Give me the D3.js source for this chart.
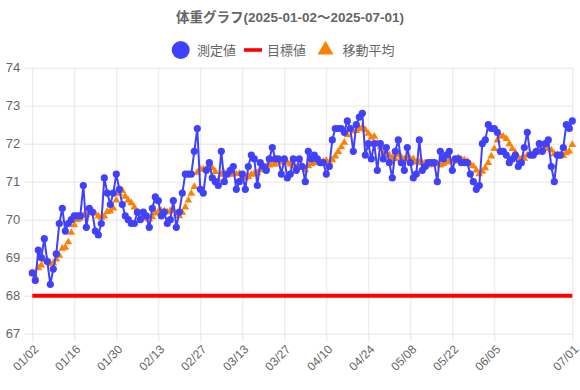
<!DOCTYPE html>
<html lang="ja">
<head>
<meta charset="UTF-8">
<title>体重グラフ</title>
<style>
  body { margin: 0; background: #fff; }
  svg { display: block; font-family: "Liberation Sans", Arial, "Noto Sans CJK JP", sans-serif; }
  .grid line { stroke: #e6e6e6; stroke-width: 1px; }
  .grid text { fill: #666; font-size: 12px; }
  .yaxis text { font-size: 13px; }
  .title { fill: #666; font-size: 13.5px; font-weight: bold; }
  .legend text { fill: #666; font-size: 13px; }
</style>
</head>
<body>
<script src="https://d3js.org/d3.v7.min.js"></script>
<script>
// period
const startDay = "2025-01-02";
const endDay = "2025-07-01";
const targetWeight = 68;

// measured weight, one per day from 01/02
const weights = [
  68.6, 68.4, 69.2, 69.0, 69.5, 68.9, 68.3, 68.7, 69.1, 69.9,
  70.3, 69.7, 69.9, 70.0, 70.1, 70.1, 70.1, 70.9, 69.8, 70.3,
  70.2, 69.7, 69.6, 69.9, 71.1, 70.7, 70.4, 70.7, 71.2, 70.8,
  70.4, 70.1, 70.0, 69.9, 69.9, 70.2, 70.0, 70.2, 70.1, 69.8,
  70.3, 70.6, 70.5, 70.1, 70.2, 69.9, 70.0, 70.5, 69.8, 70.2,
  70.7, 71.2, 71.2, 71.2, 71.8, 72.4, 70.8, 70.7, 71.3, 71.5,
  71.1, 71.0, 70.9, 71.8, 71.0, 71.2, 71.3, 71.4, 70.8, 71.0,
  71.2, 70.8, 71.4, 71.7, 71.6, 70.9, 71.5, 71.4, 71.3, 71.6,
  71.9, 71.6, 71.6, 71.2, 71.6, 71.1, 71.2, 71.6, 71.3, 71.6,
  71.4, 71.0, 71.8, 71.6, 71.7, 71.6, 71.5, 71.5, 71.2, 71.4,
  72.1, 72.4, 72.4, 72.4, 72.3, 72.6, 72.4, 71.8, 72.5, 72.7,
  72.8, 71.7, 72.0, 71.6, 72.0, 71.3, 72.0, 71.6, 71.9, 71.5,
  71.1, 71.8, 72.1, 71.5, 71.3, 71.9, 71.5, 71.1, 71.2, 72.1,
  71.3, 71.4, 71.5, 71.5, 71.5, 71.0, 71.8, 71.6, 71.7, 71.8,
  71.3, 71.6, 71.6, 71.5, 71.5, 71.5, 71.2, 71.0, 70.8, 70.9,
  72.0, 72.1, 72.5, 72.4, 72.4, 72.3, 71.8, 71.8, 71.7, 71.5,
  71.6, 71.7, 71.4, 71.5, 71.9, 72.3, 71.7, 71.7, 71.8, 72.0,
  71.8, 72.0, 72.1, 71.4, 71.0, 71.7, 71.7, 71.9, 72.5, 72.4,
  72.6
];

// moving average as drawn (orange triangles)
const movingAvg = [
  68.60, 68.50, 68.73, 68.80, 68.94, 68.93, 68.84, 68.86, 68.96, 69.06,
  69.24, 69.27, 69.41, 69.66, 69.86, 70.00, 70.03, 70.11, 70.13, 70.19,
  70.21, 70.16, 70.09, 70.06, 70.09, 70.21, 70.23, 70.30, 70.51, 70.69,
  70.76, 70.61, 70.51, 70.44, 70.33, 70.19, 70.07, 70.04, 70.04, 70.01,
  70.07, 70.17, 70.21, 70.23, 70.23, 70.20, 70.23, 70.26, 70.14, 70.10,
  70.19, 70.33, 70.51, 70.69, 70.87, 71.24, 71.33, 71.33, 71.34, 71.39,
  71.37, 71.26, 71.04, 71.19, 71.23, 71.21, 71.19, 71.23, 71.20, 71.21,
  71.13, 71.10, 71.13, 71.19, 71.21, 71.23, 71.30, 71.33, 71.40, 71.43,
  71.46, 71.46, 71.56, 71.51, 71.54, 71.51, 71.46, 71.41, 71.37, 71.37,
  71.40, 71.31, 71.41, 71.47, 71.49, 71.53, 71.51, 71.53, 71.56, 71.50,
  71.57, 71.67, 71.79, 71.91, 72.03, 72.23, 72.37, 72.33, 72.34, 72.39,
  72.44, 72.36, 72.27, 72.16, 72.19, 72.01, 71.91, 71.74, 71.77, 71.70,
  71.63, 71.60, 71.71, 71.64, 71.60, 71.60, 71.60, 71.60, 71.51, 71.51,
  71.49, 71.50, 71.44, 71.44, 71.50, 71.47, 71.43, 71.47, 71.51, 71.56,
  71.53, 71.54, 71.63, 71.59, 71.57, 71.54, 71.46, 71.41, 71.30, 71.20,
  71.27, 71.36, 71.50, 71.67, 71.87, 72.09, 72.21, 72.19, 72.13, 71.99,
  71.87, 71.77, 71.64, 71.60, 71.61, 71.70, 71.73, 71.74, 71.76, 71.84,
  71.89, 71.90, 71.87, 71.83, 71.73, 71.71, 71.67, 71.69, 71.76, 71.80,
  71.97
];

const tickLabels = ["01/02", "01/16", "01/30", "02/13", "02/27", "03/13", "03/27",
  "04/10", "04/24", "05/08", "05/22", "06/05", "07/01"];
const yTicks = [67, 68, 69, 70, 71, 72, 73, 74];

const width = 580, height = 390;
const plot = { left: 32.3, right: 572.3, top: 67.7, bottom: 333.7 };

const parse = d3.timeParse("%Y-%m-%d");
const days = d3.timeDay.range(parse(startDay), d3.timeDay.offset(parse(endDay), 1));
const tickDates = tickLabels.map(t => d3.timeParse("%Y/%m/%d")("2025/" + t));

const x = d3.scaleTime().domain([parse(startDay), parse(endDay)]).range([plot.left, plot.right]);
const y = d3.scaleLinear().domain([67, 74]).range([plot.bottom, plot.top]);

const svg = d3.select("body").append("svg")
  .attr("width", width)
  .attr("height", height);

// vertical grid + date labels
const xAxis = svg.append("g")
  .attr("class", "grid")
  .attr("transform", `translate(0,${plot.bottom + 8})`)
  .call(d3.axisBottom(x)
    .tickValues(tickDates)
    .tickFormat(d3.timeFormat("%m/%d"))
    .tickSize(-(plot.bottom - plot.top + 8))
    .tickPadding(0));
xAxis.select(".domain").remove();
xAxis.selectAll("text")
  .attr("text-anchor", "end")
  .attr("dy", "0.7em")
  .attr("transform", "translate(0.5,2.5) rotate(-45)");

// horizontal grid + weight labels
const yAxis = svg.append("g")
  .attr("class", "grid yaxis")
  .attr("transform", `translate(${plot.left - 8},0)`)
  .call(d3.axisLeft(y)
    .tickValues(yTicks)
    .tickFormat(d3.format("d"))
    .tickSize(-(plot.right - plot.left + 8))
    .tickPadding(4));
yAxis.select(".domain").remove();

// target line
svg.append("line")
  .attr("x1", plot.left).attr("x2", plot.right)
  .attr("y1", y(targetWeight)).attr("y2", y(targetWeight))
  .attr("stroke", "#ff0000")
  .attr("stroke-width", 4);

// moving average triangles
svg.append("g").selectAll("path")
  .data(movingAvg)
  .join("path")
  .attr("transform", (d, i) => `translate(${x(days[i])},${y(d)})`)
  .attr("d", d3.symbol(d3.symbolTriangle, 26))
  .attr("fill", "#ff8000");

// measured line + points
const line = d3.line()
  .x((d, i) => x(days[i]))
  .y(d => y(d));

svg.append("path")
  .datum(weights)
  .attr("d", line)
  .attr("fill", "none")
  .attr("stroke", "#4040ff")
  .attr("stroke-width", 2);

svg.append("g").selectAll("circle")
  .data(weights)
  .join("circle")
  .attr("cx", (d, i) => x(days[i]))
  .attr("cy", d => y(d))
  .attr("r", 3.6)
  .attr("fill", "#4040ff");

// title
svg.append("text")
  .attr("class", "title")
  .attr("x", 290)
  .attr("y", 17)
  .attr("dy", "0.35em")
  .attr("text-anchor", "middle")
  .text(`体重グラフ(${startDay}〜${endDay})`);

// legend
const legend = svg.append("g").attr("class", "legend");
legend.append("circle").attr("cx", 180.7).attr("cy", 50).attr("r", 9).attr("fill", "#4040ff");
legend.append("text").attr("x", 197).attr("y", 50).attr("dy", "0.35em").text("測定値");
legend.append("rect").attr("x", 244).attr("y", 48.2).attr("width", 18).attr("height", 3.6).attr("fill", "#ff0000");
legend.append("text").attr("x", 267).attr("y", 50).attr("dy", "0.35em").text("目標値");
legend.append("path")
  .attr("transform", "translate(325.5,50)")
  .attr("d", d3.symbol(d3.symbolTriangle, 110))
  .attr("fill", "#ff8000");
legend.append("text").attr("x", 342.5).attr("y", 50).attr("dy", "0.35em").text("移動平均");
</script>
</body>
</html>
